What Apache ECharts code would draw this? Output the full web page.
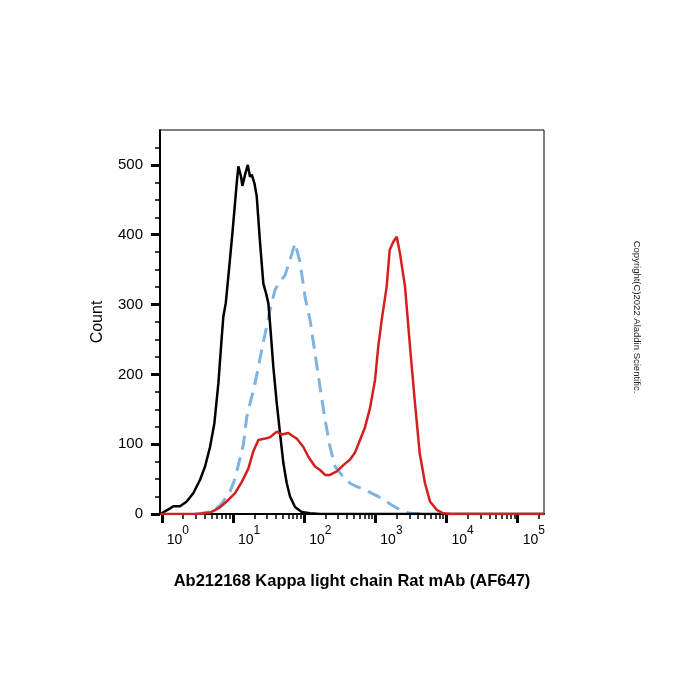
<!DOCTYPE html>
<html>
<head>
<meta charset="utf-8">
<script src="https://cdn.jsdelivr.net/npm/echarts@6/dist/echarts.min.js"></script>
<style>
  html, body { margin: 0; padding: 0; background: #fff; }
  #container { width: 700px; height: 700px; }
</style>
</head>
<body>
<div id="container"></div>
<script>
// x values are log10 of the AF647 intensity (decades), y values are counts
var isotypeCurve = [
  [-0.02, 0], [0.0, 0], [0.117, 8], [0.163, 11], [0.257, 11], [0.351, 18], [0.444, 30],
  [0.538, 49], [0.608, 68], [0.678, 96], [0.739, 130], [0.795, 187], [0.843, 254],
  [0.865, 283], [0.899, 302], [0.935, 340], [0.992, 402], [1.053, 474], [1.076, 498],
  [1.114, 483], [1.132, 470], [1.170, 486], [1.208, 500], [1.240, 483], [1.264, 486],
  [1.301, 474], [1.334, 455], [1.381, 388], [1.427, 330], [1.465, 316], [1.497, 302],
  [1.521, 273], [1.567, 211], [1.615, 159], [1.661, 116], [1.708, 73], [1.756, 44],
  [1.802, 25], [1.872, 10], [1.966, 3], [2.083, 1], [2.223, 0], [5.37, 0]
];
var controlCurve = [
  [0.468, 0], [0.562, 1], [0.678, 3], [0.819, 12], [0.913, 25], [0.959, 32], [1.03, 51],
  [1.076, 70], [1.146, 99], [1.194, 139], [1.31, 187], [1.404, 235], [1.521, 292],
  [1.591, 321], [1.661, 333], [1.732, 342], [1.802, 364], [1.872, 388], [1.942, 361],
  [2.013, 311], [2.083, 278], [2.153, 230], [2.223, 182], [2.294, 135], [2.364, 96],
  [2.434, 68], [2.551, 53], [2.645, 44], [2.739, 39], [2.809, 37], [2.926, 31],
  [3.042, 25], [3.230, 13], [3.347, 6], [3.487, 1], [3.698, 0], [3.75, 0]
];
var stainedCurve = [
  [-0.02, 0], [0.514, 0], [0.678, 2], [0.795, 8], [0.913, 18], [1.03, 30], [1.124, 46],
  [1.216, 65], [1.287, 90], [1.357, 106], [1.451, 108], [1.521, 110], [1.615, 118],
  [1.685, 114], [1.778, 116], [1.848, 111], [1.896, 108], [1.989, 96], [2.059, 82],
  [2.153, 68], [2.223, 63], [2.294, 56], [2.364, 56], [2.458, 61], [2.551, 70],
  [2.645, 78], [2.715, 88], [2.785, 106], [2.855, 124], [2.926, 152], [2.996, 192],
  [3.042, 240], [3.090, 278], [3.160, 326], [3.202, 378], [3.253, 390], [3.301, 397],
  [3.347, 373], [3.417, 326], [3.487, 240], [3.557, 159], [3.624, 87], [3.698, 44],
  [3.768, 18], [3.862, 6], [3.955, 1], [4.05, 0], [5.37, 0]
];

var xDecades = [0, 1, 2, 3, 4, 5];
var xMinorSteps = [2, 3, 4, 5, 6, 7, 8, 9];
var yMajorTicks = [0, 100, 200, 300, 400, 500];
var yMinorTicks = [25, 50, 75, 125, 150, 175, 225, 250, 275, 325, 350, 375, 425, 450, 475, 525];

var xMin = -0.025, xMax = 5.37, yMax = 550;

var xMinorTicks = [];
xDecades.forEach(function (d) {
  xMinorSteps.forEach(function (k) {
    var v = d + Math.log10(k);
    if (v < xMax) xMinorTicks.push(v);
  });
});

var dom = document.getElementById('container');
var myChart = echarts.init(dom);
var font = 'Liberation Sans, Arial, sans-serif';

var option = {
  animation: false,
  grid: {
    left: 160,
    right: 156,
    top: 130,
    bottom: 186,
    show: true,
    borderColor: '#000',
    borderWidth: 1
  },
  xAxis: [
    {
      type: 'value',
      position: 'bottom',
      min: xMin,
      max: xMax,
      axisLine: { show: true, onZero: false, lineStyle: { color: '#000', width: 2 } },
      axisTick: { show: true, customValues: xDecades, length: 9, lineStyle: { color: '#000', width: 3 } },
      splitLine: { show: false },
      axisLabel: {
        customValues: xDecades,
        align: 'left',
        margin: 11,
        formatter: function (v) {
          return '{b|10}{s|' + v + '}';
        },
        rich: {
          b: { fontSize: 14, fontFamily: font, color: '#000', lineHeight: 22, verticalAlign: 'bottom', padding: [0, 0, 0, 5] },
          s: { fontSize: 12, fontFamily: font, color: '#000', lineHeight: 12, verticalAlign: 'top' }
        }
      }
    },
    {
      type: 'value',
      position: 'bottom',
      min: xMin,
      max: xMax,
      axisLine: { show: false, onZero: false },
      axisTick: { show: true, inside: false, customValues: xMinorTicks, length: 5, lineStyle: { color: '#000', width: 1.5 } },
      axisLabel: { show: false },
      splitLine: { show: false }
    }
  ],
  yAxis: [
    {
      type: 'value',
      position: 'left',
      min: 0,
      max: yMax,
      name: 'Count',
      nameLocation: 'middle',
      nameGap: 54,
      nameTextStyle: { fontSize: 16, fontFamily: font, color: '#000' },
      axisLine: { show: true, onZero: false, lineStyle: { color: '#000', width: 2 } },
      axisTick: { show: true, customValues: yMajorTicks, length: 9, lineStyle: { color: '#000', width: 3 } },
      splitLine: { show: false },
      axisLabel: {
        customValues: yMajorTicks,
        margin: 17,
        fontSize: 15,
        fontFamily: font,
        color: '#000'
      }
    },
    {
      type: 'value',
      position: 'left',
      min: 0,
      max: yMax,
      axisLine: { show: false, onZero: false },
      axisTick: { show: true, inside: false, customValues: yMinorTicks, length: 5, lineStyle: { color: '#000', width: 1.5 } },
      axisLabel: { show: false },
      splitLine: { show: false }
    }
  ],
  graphic: [
    {
      type: 'text',
      x: 352,
      y: 581,
      style: {
        text: 'Ab212168 Kappa light chain Rat mAb (AF647)',
        font: 'bold 16.5px ' + font,
        fill: '#000',
        align: 'center',
        verticalAlign: 'middle'
      }
    },
    {
      type: 'text',
      x: 637,
      y: 317,
      rotation: -Math.PI / 2,
      style: {
        text: 'Copyright(C)2022 Aladdin Scientific.',
        font: '9.5px ' + font,
        fill: '#222',
        align: 'center',
        verticalAlign: 'middle'
      }
    }
  ],
  series: [
    {
      name: 'control',
      type: 'line',
      showSymbol: false,
      data: controlCurve,
      lineStyle: { color: '#7fb3e0', width: 3, type: [14, 8] }
    },
    {
      name: 'isotype',
      type: 'line',
      showSymbol: false,
      data: isotypeCurve,
      lineStyle: { color: '#000', width: 2.5 }
    },
    {
      name: 'Ab212168',
      type: 'line',
      showSymbol: false,
      data: stainedCurve,
      lineStyle: { color: '#d41f1f', width: 2.5 }
    }
  ]
};

if (option && typeof option === 'object') {
  myChart.setOption(option);
}
</script>
</body>
</html>
